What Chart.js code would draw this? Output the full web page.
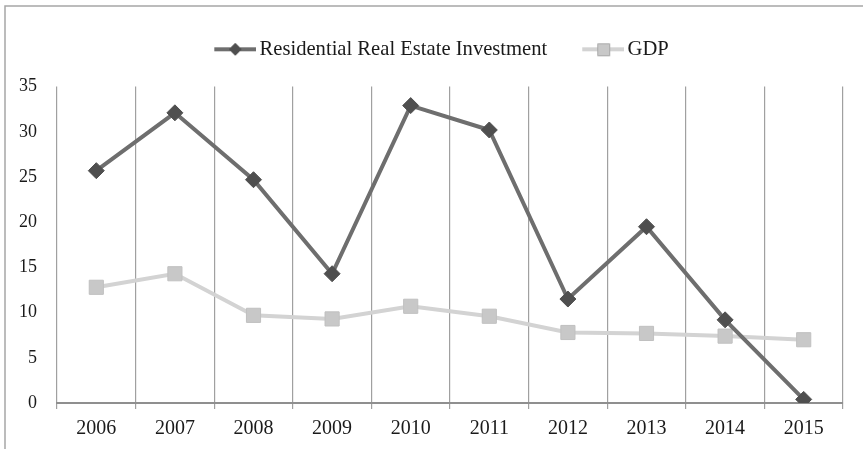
<!DOCTYPE html>
<html lang="en">
<head>
    <meta charset="UTF-8">
    <title>Residential Real Estate Investment vs GDP</title>
</head>
<body style="margin: 0 0 0 0; background: #ffffff;">
    <div style="width: 863px; height: 449px;">
        <canvas id="myChart" width="863" height="449"></canvas>
    </div>

    <script src="https://cdn.jsdelivr.net/npm/chart.js@4.4.0/dist/chart.umd.min.js"></script>
    <script>
        // data
        const years = ['2006', '2007', '2008', '2009', '2010', '2011', '2012', '2013', '2014', '2015'];
        const housing = [25.7, 32.1, 24.7, 14.3, 32.9, 30.2, 11.5, 19.5, 9.2, 0.4];
        const gdp = [12.8, 14.3, 9.7, 9.3, 10.7, 9.6, 7.8, 7.7, 7.4, 7.0];
        const yTicks = [0, 5, 10, 15, 20, 25, 30, 35];

        const serif = '"Liberation Serif", "DejaVu Serif", serif';

        // legend symbol: a short line with the marker in the middle
        function legendIcon(lineColor, fill, stroke, kind) {
            var c = document.createElement('canvas');
            c.width = 50;
            c.height = 16;
            var ctx = c.getContext('2d');
            ctx.strokeStyle = lineColor;
            ctx.lineWidth = 4;
            ctx.beginPath();
            ctx.moveTo(8, 8);
            ctx.lineTo(50, 8);
            ctx.stroke();
            ctx.fillStyle = fill;
            ctx.strokeStyle = stroke;
            ctx.lineWidth = 1;
            ctx.beginPath();
            if (kind == 'diamond') {
                ctx.moveTo(29, 2);
                ctx.lineTo(35, 8);
                ctx.lineTo(29, 14);
                ctx.lineTo(23, 8);
                ctx.closePath();
            } else {
                ctx.rect(23.5, 2.5, 12, 12);
            }
            ctx.fill();
            ctx.stroke();
            return c;
        }

        // thin frame on the top and left like the original picture
        const framePlugin = {
            id: 'frame',
            afterDraw(chart) {
                const ctx = chart.ctx;
                ctx.save();
                ctx.strokeStyle = '#a6a6a6';
                ctx.lineWidth = 1.5;
                ctx.beginPath();
                ctx.moveTo(5, 449);
                ctx.lineTo(5, 6);
                ctx.lineTo(863, 6);
                ctx.stroke();
                ctx.restore();
            }
        };

        // more room under the legend, and legend centred over the plot
        const legendGap = {
            id: 'legendGap',
            beforeInit(chart) {
                const fit = chart.legend.fit;
                chart.legend.fit = function () {
                    fit.bind(chart.legend)();
                    this.height += 17;
                };
            },
            afterLayout(chart) {
                chart.legend.left += 16;
                chart.legend.right += 16;
            }
        };

        const config = {
            type: 'line',
            data: {
                labels: years,
                datasets: [{
                    label: 'Residential Real Estate Investment',
                    data: housing,
                    borderColor: '#6e6e6e',
                    borderWidth: 4,
                    pointStyle: 'rectRot',
                    pointRadius: 8,
                    pointBackgroundColor: '#4f4f4f',
                    pointBorderColor: '#4f4f4f',
                    pointBorderWidth: 1,
                    tension: 0
                },
                {
                    label: 'GDP',
                    data: gdp,
                    borderColor: '#d3d3d3',
                    borderWidth: 4,
                    pointStyle: 'rect',
                    pointRadius: 10,
                    pointBackgroundColor: '#c8c8c8',
                    pointBorderColor: '#c0c0c0',
                    pointBorderWidth: 1,
                    tension: 0
                }]
            },
            options: {
                responsive: false,
                animation: false,
                layout: {
                    padding: { left: 7, right: 20, top: 5, bottom: 0 }
                },
                scales: {
                    x: {
                        offset: true,
                        grid: {
                            offset: true,
                            color: '#a0a0a0',
                            lineWidth: 1.2,
                            tickLength: 6,
                            drawTicks: true
                        },
                        border: { display: true, color: '#8f8f8f', width: 2 },
                        ticks: {
                            color: '#1a1a1a',
                            padding: 8,
                            font: { family: serif, size: 20 }
                        }
                    },
                    y: {
                        min: 0,
                        max: 35,
                        afterBuildTicks: function (axis) {
                            axis.ticks = yTicks.map(v => ({ value: v }));
                        },
                        grid: { display: false },
                        border: { display: false },
                        ticks: {
                            color: '#1a1a1a',
                            padding: 12,
                            font: { family: serif, size: 18 }
                        }
                    }
                },
                plugins: {
                    tooltip: { enabled: false },
                    legend: {
                        position: 'top',
                        labels: {
                            usePointStyle: true,
                            pointStyleWidth: 36,
                            padding: 34,
                            color: '#1a1a1a',
                            font: { family: serif, size: 20.6 },
                            generateLabels: function (chart) {
                                return [
                                    { text: 'Residential Real Estate Investment', datasetIndex: 0, fontColor: '#1a1a1a',
                                      pointStyle: legendIcon('#6e6e6e', '#4f4f4f', '#4f4f4f', 'diamond'), lineWidth: 0 },
                                    { text: 'GDP', datasetIndex: 1, fontColor: '#1a1a1a',
                                      pointStyle: legendIcon('#d3d3d3', '#c8c8c8', '#a8a8a8', 'square'), lineWidth: 0 }
                                ];
                            }
                        }
                    }
                }
            },
            plugins: [framePlugin, legendGap]
        };

        const myChart = new Chart(document.getElementById('myChart'), config);
    </script>
</body>
</html>
